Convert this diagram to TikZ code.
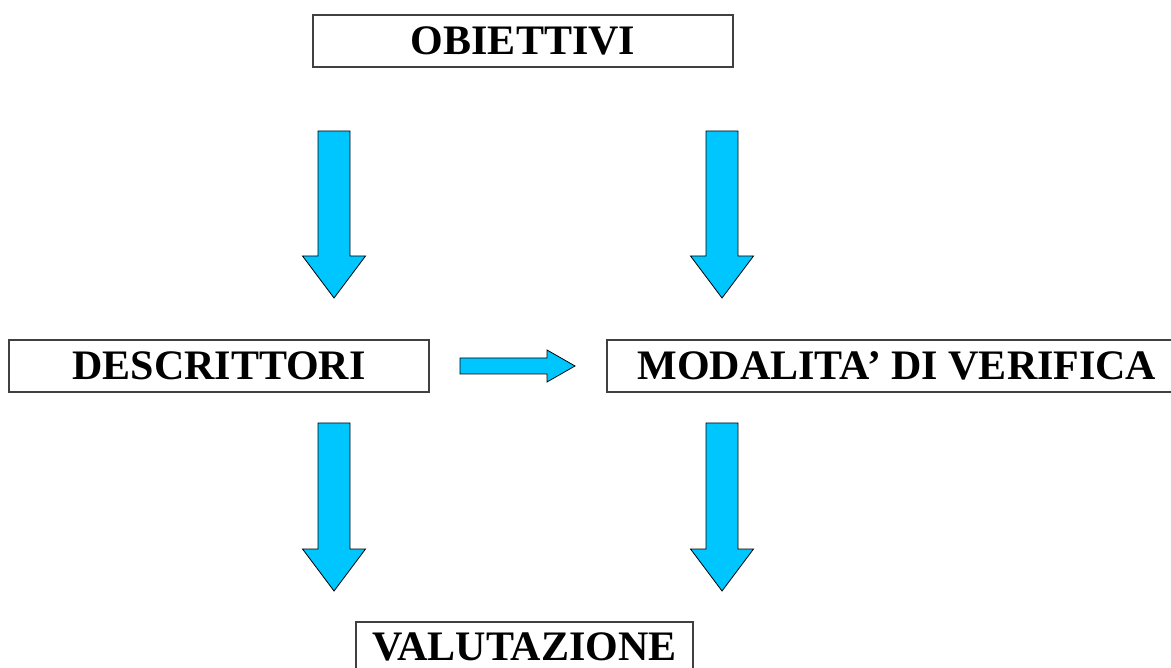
\documentclass[tikz,border=0pt]{standalone}
\usepackage{fontspec}
\setmainfont{Liberation Serif}
\definecolor{arrowfill}{HTML}{00C6FF}
\definecolor{boxline}{HTML}{404040}
\begin{document}
\begin{tikzpicture}[x=1pt,y=-1pt,
  label box/.style={draw=boxline,line width=1.2pt,fill=white,inner sep=0pt,
    font=\fontsize{42}{48}\selectfont\bfseries},
  block arrow/.style={draw=black,line width=0.8pt,fill=arrowfill,line join=miter}]
\useasboundingbox (0,0) rectangle (1171,668);
\begin{scope}
\clip (0,0) rectangle (1171,668);
% boxes
\node[label box,minimum width=420pt,minimum height=52pt] (obi) at (523,41) {OBIETTIVI};
\node[label box,minimum width=420pt,minimum height=52pt] (desc) at (219,366) {DESCRITTORI};
\node[label box,minimum width=580pt,minimum height=52pt] (mod) at (897,366) {MODALITA’ DI VERIFICA};
\node[label box,minimum width=337pt,minimum height=52pt,text depth=3pt] (val) at (524.5,648) {VALUTAZIONE};
% block arrows
\newcommand{\blkdown}[4]{% center x, top, head base, tip
  \draw[block arrow] (#1-16,#2) -- (#1+16,#2) -- (#1+16,#3) -- (#1+31.5,#3)
    -- (#1,#4) -- (#1-31.5,#3) -- (#1-16,#3) -- cycle;}
\blkdown{334}{131}{256}{298}
\blkdown{722}{131}{256}{298}
\blkdown{334}{423}{549}{591}
\blkdown{722}{423}{549}{591}
\draw[block arrow] (460,358) -- (547,358) -- (547,350) -- (575,366)
  -- (547,382) -- (547,374) -- (460,374) -- cycle;
\end{scope}
\end{tikzpicture}
\end{document}
